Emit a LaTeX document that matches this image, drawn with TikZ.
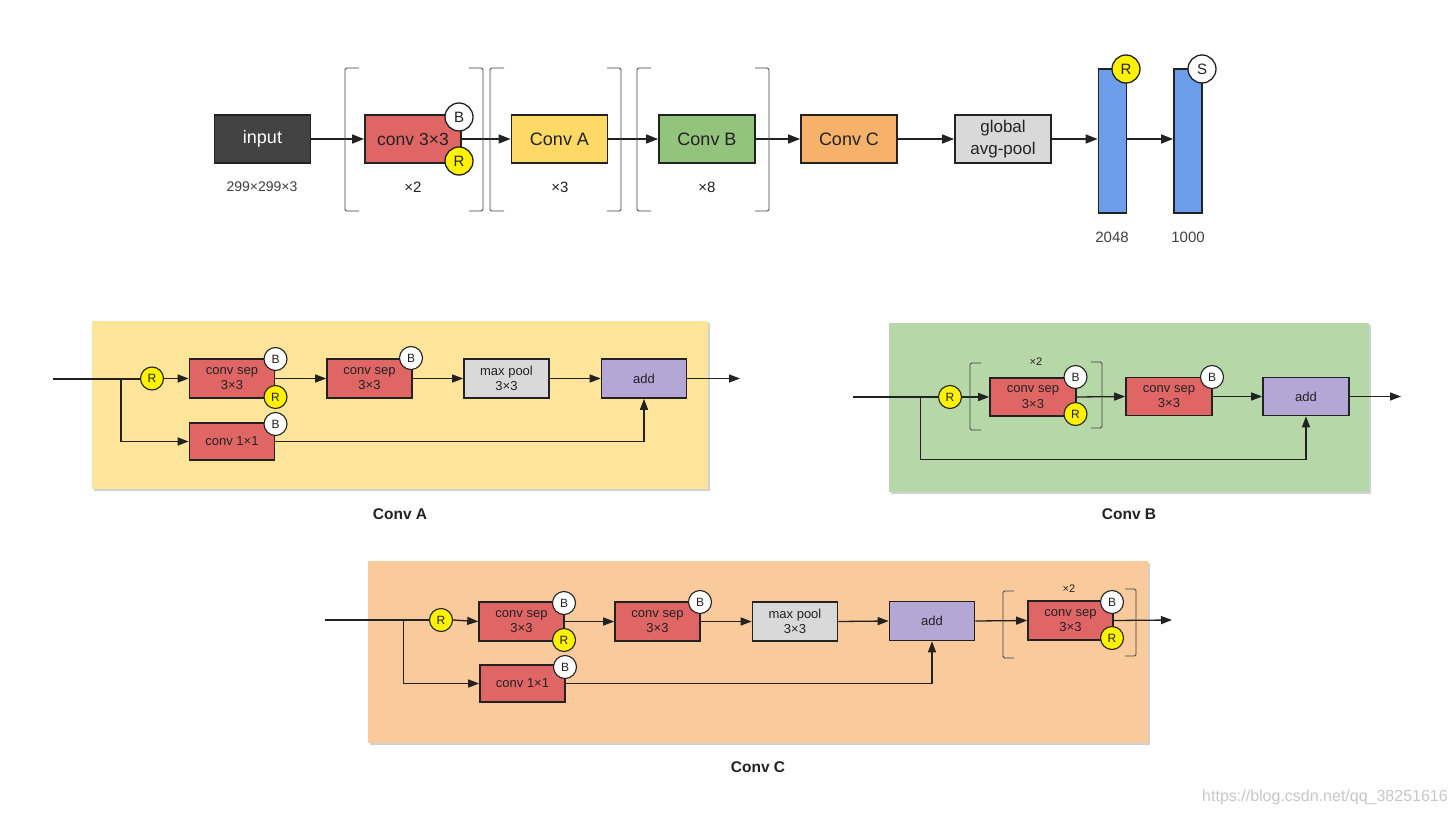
\documentclass[tikz,border=0pt]{standalone}
\usepackage{fontspec}
\setmainfont{Liberation Sans}
\usetikzlibrary{arrows.meta}
\definecolor{cinput}{HTML}{434343}
\definecolor{cred}{HTML}{E06666}
\definecolor{cyel}{HTML}{FFD966}
\definecolor{cgreen}{HTML}{93C47D}
\definecolor{corange}{HTML}{F6B26B}
\definecolor{cgray}{HTML}{D9D9D9}
\definecolor{cblue}{HTML}{6D9EEB}
\definecolor{cpurple}{HTML}{B4A7D6}
\definecolor{bgA}{HTML}{FFE599}
\definecolor{bgB}{HTML}{B6D7A8}
\definecolor{bgC}{HTML}{F9CB9C}
\definecolor{ink}{HTML}{222222}
\newcommand{\fs}[1]{\fontsize{#1}{#1}\selectfont}
\begin{document}
\begin{tikzpicture}[x=1pt,y=-1pt,
  box/.style={draw=ink, line width=1.8pt, inner sep=0pt, text=ink, align=center},
  tbox/.style={box, minimum width=96pt, minimum height=48pt, font=\fs{18}},
  pbox/.style={box, line width=1.6pt, minimum width=85pt, minimum height=39pt, font=\fontsize{13}{15.5}\selectfont},
  bar/.style={draw=ink, line width=1.8pt, fill=cblue, minimum width=28pt, minimum height=144pt, inner sep=0pt},
  tcirc/.style={circle, draw=ink, line width=1.3pt, minimum size=28pt, inner sep=0pt, font=\fs{15}, text=ink},
  pcirc/.style={circle, draw=ink, line width=1.1pt, minimum size=23pt, inner sep=0pt, font=\fs{12}, text=ink},
  tarr/.style={line width=1.4pt, draw=ink, -{Triangle[length=12pt,width=9pt]}},
  parr/.style={line width=1.3pt, draw=ink, -{Triangle[length=11pt,width=8pt]}},
  inline/.style={line width=2pt, draw=ink},
  brk/.style={line width=0.8pt, draw=black!75, rounded corners=1.5pt},
  lbl/.style={text=ink, inner sep=0pt},
  shadow/.style={fill=black!18, draw=none},
  title/.style={text=ink, inner sep=0pt, font=\bfseries\fs{15.5}}
]
\useasboundingbox[fill=white] (0,0) rectangle (1451,816);

% ---------------- top row ----------------
\node[tbox, fill=cinput, text=white] (inp) at (262.5,139) {input};
\node[tbox, fill=cred, font=\fs{17.5}] (c33) at (413,139) {conv 3×3};
\node[tbox, fill=cyel] (ca) at (559.5,139) {Conv A};
\node[tbox, fill=cgreen] (cb) at (707,139) {Conv B};
\node[tbox, fill=corange] (cc) at (849,139) {Conv C};
\node[tbox, fill=cgray, font=\fontsize{17}{22}\selectfont] (gap) at (1003,139) {global\\avg-pool};
\node[bar] (bar1) at (1112.5,141) {};
\node[bar] (bar2) at (1188,141) {};

\draw[tarr] (inp.east) -- (c33.west);
\draw[tarr] (c33.east) -- (ca.west);
\draw[tarr] (ca.east) -- (cb.west);
\draw[tarr] (cb.east) -- (cc.west);
\draw[tarr] (cc.east) -- (gap.west);
\draw[tarr] (gap.east) -- (gap.east -| bar1.west);
\draw[tarr] (bar1.east |- gap.east) -- (bar2.west |- gap.east);

\node[tcirc, fill=white] (c33b) at (459,117) {B};
\node[tcirc, fill=yellow] (c33r) at (459,161) {R};
\node[tcirc, fill=yellow] (bar1r) at (1126,69) {R};
\node[tcirc, fill=white] (bar2s) at (1202,69) {S};

\draw[brk] (359,68) -- (345,68) -- (345,211) -- (359,211);
\draw[brk] (469,68) -- (483,68) -- (483,211) -- (469,211);
\draw[brk] (504,68) -- (490,68) -- (490,211) -- (504,211);
\draw[brk] (607,68) -- (621,68) -- (621,211) -- (607,211);
\draw[brk] (651,68) -- (637,68) -- (637,211) -- (651,211);
\draw[brk] (755,68) -- (769,68) -- (769,211) -- (755,211);

\node[lbl, font=\fs{14}, text=black!75] (sz) at (262,187) {299×299×3};
\node[lbl, font=\fs{15}] (x2) at (413,187) {×2};
\node[lbl, font=\fs{15}] (x3) at (560,187) {×3};
\node[lbl, font=\fs{15}] (x8) at (707,187) {×8};
\node[lbl, font=\fs{15}, text=black!75] (n2048) at (1112,237) {2048};
\node[lbl, font=\fs{15}, text=black!75] (n1000) at (1188,237) {1000};

% ---------------- Conv A ----------------
\fill[shadow] (94,323) rectangle (710,491);
\fill[bgA] (92,321) rectangle (708,489);
\node[pbox, fill=cred] (a1) at (232,378.5) {conv sep\\3×3};
\node[pbox, fill=cred] (a2) at (369.5,378.5) {conv sep\\3×3};
\node[pbox, fill=cgray] (a3) at (506.5,378.5) {max pool\\3×3};
\node[pbox, fill=cpurple] (a4) at (644,378.5) {add};
\node[pbox, fill=cred, minimum height=37pt] (a5) at (232,441.5) {conv 1×1};
\coordinate (ainA) at (53,378.5);
\coordinate (abr) at (121,378.5);
\coordinate (aout) at (740,378.5);
\node[pcirc, fill=yellow] (ra) at (152,378.5) {R};
\draw[inline] (ainA) -- (ra.west);
\draw[parr] (abr) |- (a5.west);
\draw[parr] (ra.east) -- (a1.west);
\draw[parr] (a1.east) -- (a2.west);
\draw[parr] (a2.east) -- (a3.west);
\draw[parr] (a3.east) -- (a4.west);
\draw[parr] (a4.east) -- (aout);
\draw[parr] (a5.east) -| (a4.south);
\node[pcirc, fill=white] (a1b) at (275.5,359) {B};
\node[pcirc, fill=yellow] (a1r) at (275.5,397) {R};
\node[pcirc, fill=white] (a2b) at (411,358) {B};
\node[pcirc, fill=white] (a5b) at (275.5,424) {B};
\node[title] (ta) at (400,514) {Conv A};

% ---------------- Conv B ----------------
\fill[shadow] (891,325) rectangle (1371,494);
\fill[bgB] (889,323) rectangle (1369,492);
\node[pbox, fill=cred, minimum width=86pt, minimum height=38pt] (b1) at (1033,397) {conv sep\\3×3};
\node[pbox, fill=cred, minimum width=86pt, minimum height=38pt] (b2) at (1169,396.5) {conv sep\\3×3};
\node[pbox, fill=cpurple, minimum width=86pt, minimum height=38pt] (b3) at (1306,396.5) {add};
\coordinate (binB) at (853,397);
\coordinate (bbr) at (920.5,397);
\coordinate (bskip) at (920.5,459.5);
\coordinate (bout) at (1401,396.5);
\node[pcirc, fill=yellow] (rb) at (950,397) {R};
\draw[inline] (binB) -- (rb.west);
\draw[parr] (bbr) -- (bskip) -| (b3.south);
\draw[parr] (rb.east) -- (b1.west);
\draw[parr] (b1.east) -- (b2.west);
\draw[parr] (b2.east) -- (b3.west);
\draw[parr] (b3.east) -- (bout);
\draw[brk] (981,363) -- (970,363) -- (970,430) -- (981,430);
\draw[brk] (1091,362) -- (1102,362) -- (1102,428) -- (1091,428);
\node[lbl, font=\fs{11}] (bx2) at (1036,362) {×2};
\node[pcirc, fill=white] (b1b) at (1075.5,377) {B};
\node[pcirc, fill=yellow] (b1r) at (1075.5,414) {R};
\node[pcirc, fill=white] (b2b) at (1212,377) {B};
\node[title] (tb) at (1129,514) {Conv B};

% ---------------- Conv C ----------------
\fill[shadow] (370,563) rectangle (1150,745);
\fill[bgC] (368,561) rectangle (1148,743);
\node[pbox, fill=cred] (c1) at (521.5,621.5) {conv sep\\3×3};
\node[pbox, fill=cred] (c2) at (657.5,621.5) {conv sep\\3×3};
\node[pbox, fill=cgray] (c3) at (795,621.5) {max pool\\3×3};
\node[pbox, fill=cpurple] (c4) at (932,621) {add};
\node[pbox, fill=cred, minimum height=37pt] (c5) at (522.5,683.5) {conv 1×1};
\node[pbox, fill=cred] (c6) at (1070.5,620.5) {conv sep\\3×3};
\coordinate (cinC) at (325,620);
\coordinate (cbr) at (403.5,620);
\coordinate (cout) at (1172,620);
\node[pcirc, fill=yellow] (rc) at (441,620) {R};
\draw[inline] (cinC) -- (rc.west);
\draw[parr] (cbr) |- (c5.west);
\draw[parr] (rc.east) -- (c1.west);
\draw[parr] (c1.east) -- (c2.west);
\draw[parr] (c2.east) -- (c3.west);
\draw[parr] (c3.east) -- (c4.west);
\draw[parr] (c4.east) -- (c6.west);
\draw[parr] (c6.east) -- (cout);
\draw[parr] (c5.east) -| (c4.south);
\draw[brk] (1014,591) -- (1003,591) -- (1003,658) -- (1014,658);
\draw[brk] (1125,589) -- (1136,589) -- (1136,656) -- (1125,656);
\node[lbl, font=\fs{11}] (cx2) at (1069,589) {×2};
\node[pcirc, fill=white] (c1b) at (564,603) {B};
\node[pcirc, fill=yellow] (c1r) at (564,640) {R};
\node[pcirc, fill=white] (c2b) at (700,602) {B};
\node[pcirc, fill=white] (c5b) at (565,667) {B};
\node[pcirc, fill=white] (c6b) at (1112,602) {B};
\node[pcirc, fill=yellow] (c6r) at (1112,638) {R};
\node[title] (tc) at (758,767) {Conv C};

\node[lbl, font=\fs{16}, text=black!22] (wm) at (1325,797) {https://blog.csdn.net/qq\_38251616};
\end{tikzpicture}
\end{document}
